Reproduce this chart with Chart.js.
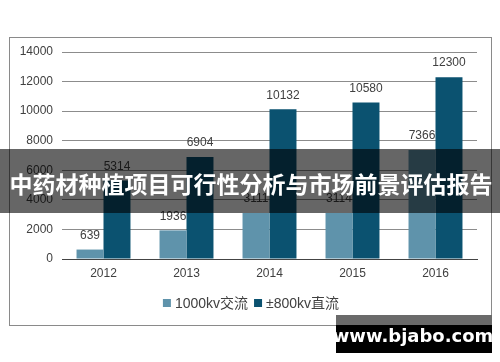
<!DOCTYPE html>
<html>
<head>
<meta charset="utf-8">
<script src="https://cdn.jsdelivr.net/npm/chart.js@4/dist/chart.umd.min.js"></script>
<style>
html,body{margin:0;padding:0;background:#fff;}
#wrap{width:500px;height:362px;position:relative;}
</style>
</head>
<body>
<div id="wrap"><canvas id="c" width="500" height="362"></canvas></div>
<script>
const categories = ["2012", "2013", "2014", "2015", "2016"];
const seriesNames = ["1000kv交流", "±800kv直流"];
const acValues = [639, 1936, 3111, 3114, 7366];
const dcValues = [5314, 6904, 10132, 10580, 12300];
const yTicks = [0, 2000, 4000, 6000, 8000, 10000, 12000, 14000];
const titleText = "中药材种植项目可行性分析与市场前景评估报告";
const watermarkText = "www.bjabo.com";

const lightColor = "#5f93ab";
const darkColor = "#0b5270";
const numFont = "'Liberation Sans', Arial, sans-serif";

const overlayPlugin = {
  id: "overlay",
  beforeDraw(chart) {
    const ctx = chart.ctx;
    ctx.save();
    ctx.fillStyle = "#fff";
    ctx.fillRect(0, 0, chart.width, chart.height);
    ctx.strokeStyle = "#8a8a8a";
    ctx.lineWidth = 1;
    ctx.strokeRect(9.5, 37.5, 482, 288);
    ctx.restore();
  },
  afterDatasetsDraw(chart) {
    const ctx = chart.ctx;
    ctx.save();
    ctx.font = "12px " + numFont;
    ctx.fillStyle = "#404040";
    ctx.textAlign = "center";
    ctx.textBaseline = "middle";
    chart.data.datasets.forEach((ds, di) => {
      const meta = chart.getDatasetMeta(di);
      meta.data.forEach((bar, i) => {
        ctx.fillText(String(ds.data[i]), bar.x, bar.y - 14);
      });
    });
    // legend
    const legendY = 303;
    ctx.font = "14px " + numFont + ", 'Noto Sans CJK SC'";
    ctx.textAlign = "left";
    const items = chart.data.datasets.map(d => ({text: d.label, color: d.backgroundColor}));
    const box = 8, gap = 4, between = 6;
    let total = 0;
    items.forEach((it, i) => { total += box + gap + ctx.measureText(it.text).width + (i < items.length - 1 ? between : 0); });
    let x = 251 - total / 2;
    items.forEach(it => {
      ctx.fillStyle = it.color;
      ctx.fillRect(x, legendY - 4, box, box);
      x += box + gap;
      ctx.fillStyle = "#404040";
      ctx.fillText(it.text, x, legendY + 1);
      x += ctx.measureText(it.text).width + between;
    });
    ctx.restore();
  },
  afterDraw(chart) {
    const ctx = chart.ctx;
    ctx.save();
    // banner
    ctx.fillStyle = "rgba(0,0,0,0.6)";
    ctx.fillRect(0, 149, 500, 64);
    ctx.fillStyle = "#fff";
    ctx.font = "bold 23px 'Noto Sans CJK SC', sans-serif";
    ctx.textAlign = "center";
    ctx.textBaseline = "middle";
    ctx.fillText(titleText, 251, 184);
    // watermark
    ctx.fillStyle = "#6a6a6a";
    ctx.fillRect(336, 315, 156, 10);
    ctx.fillStyle = "#000";
    ctx.fillRect(336, 325, 156, 28);
    ctx.fillStyle = "#fff";
    ctx.font = "bold 18px 'DejaVu Sans', sans-serif";
    ctx.fillText(watermarkText, 413, 337);
    ctx.restore();
  }
};

new Chart(document.getElementById("c"), {
  type: "bar",
  data: {
    labels: categories,
    datasets: [
      {label: seriesNames[0], data: acValues, backgroundColor: lightColor, categoryPercentage: 0.65, barPercentage: 1.0},
      {label: seriesNames[1], data: dcValues, backgroundColor: darkColor, categoryPercentage: 0.65, barPercentage: 1.0}
    ]
  },
  options: {
    responsive: false,
    animation: false,
    devicePixelRatio: 1,
    layout: {padding: {top: 52, right: 23, left: 0, bottom: 0}},
    plugins: {legend: {display: false}, tooltip: {enabled: false}},
    scales: {
      x: {
        grid: {display: false, drawTicks: false},
        border: {display: true, color: "#444", width: 1},
        ticks: {font: {size: 12, family: numFont}, color: "#404040", padding: 7},
        afterFit(s) { s.height = 103; }
      },
      y: {
        min: 0, max: 14000,
        afterBuildTicks(s) { s.ticks = yTicks.map(v => ({value: v})); },
        grid: {color: "#8c8c8c", lineWidth: 1, drawTicks: false},
        border: {display: false},
        ticks: {font: {size: 12, family: numFont}, color: "#404040", padding: 9, callback: v => String(v)},
        afterFit(s) { s.width = 62; }
      }
    }
  },
  plugins: [overlayPlugin]
});
</script>
</body>
</html>
